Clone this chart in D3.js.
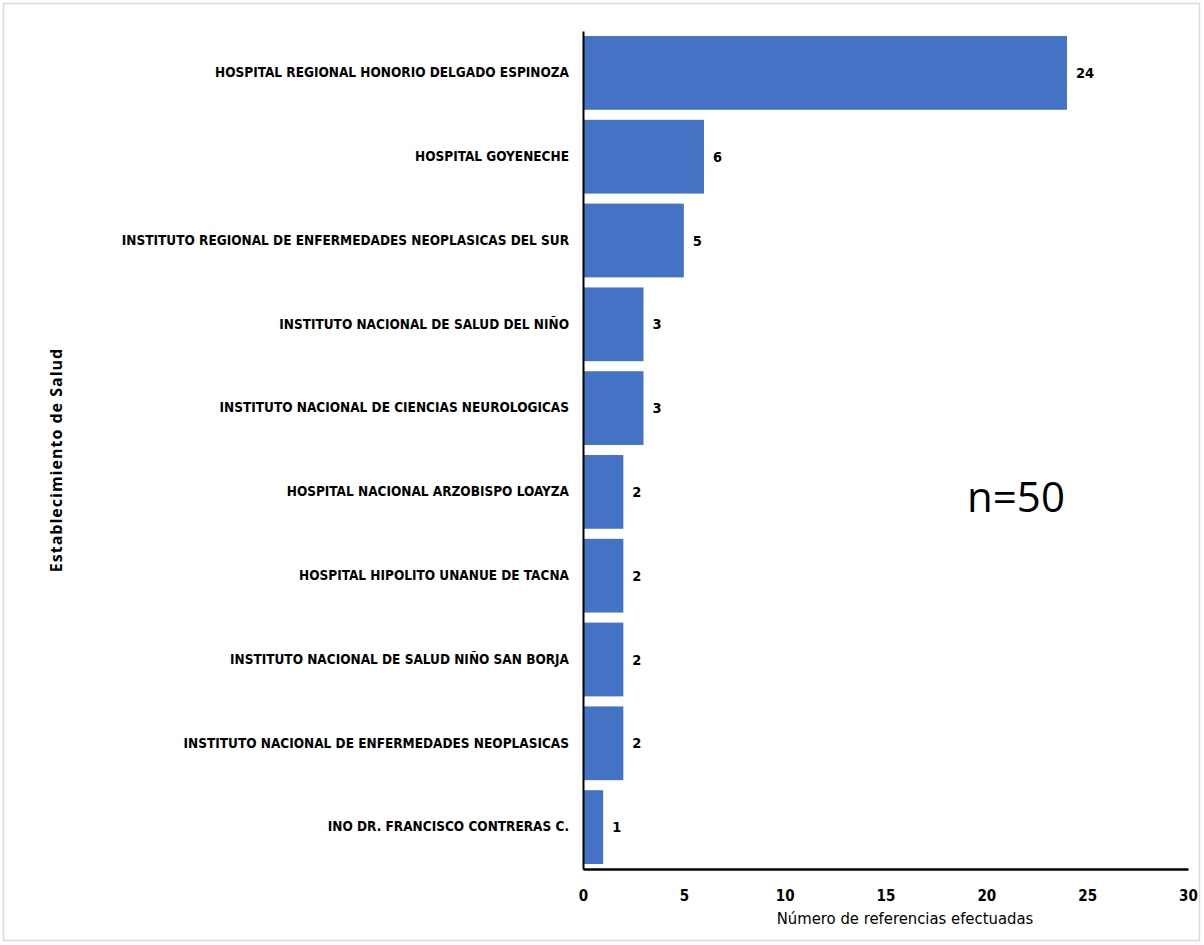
<!DOCTYPE html>
<html><head><meta charset="utf-8">
<script src="https://cdn.jsdelivr.net/npm/d3@7"></script>
<style>body{margin:0;background:#fff;} text{font-family:"DejaVu Sans Condensed",sans-serif;}</style>
</head><body><svg id="c" width="1204" height="945"></svg>
<script>
const categories = [
 "HOSPITAL REGIONAL HONORIO DELGADO ESPINOZA",
 "HOSPITAL GOYENECHE",
 "INSTITUTO REGIONAL DE ENFERMEDADES NEOPLASICAS DEL SUR",
 "INSTITUTO NACIONAL DE SALUD DEL NIÑO",
 "INSTITUTO NACIONAL DE CIENCIAS NEUROLOGICAS",
 "HOSPITAL NACIONAL ARZOBISPO LOAYZA",
 "HOSPITAL HIPOLITO UNANUE DE TACNA",
 "INSTITUTO NACIONAL DE SALUD NIÑO SAN BORJA",
 "INSTITUTO NACIONAL DE ENFERMEDADES NEOPLASICAS",
 "INO DR. FRANCISCO CONTRERAS C."
];
const values = [24, 6, 5, 3, 3, 2, 2, 2, 2, 1];
const xTicks = [0, 5, 10, 15, 20, 25, 30];
const xTitle = "Número de referencias efectuadas";
const yTitle = "Establecimiento de Salud";
const note = "n=50";

const svg = d3.select("#c");
svg.append("rect").attr("x",3.5).attr("y",3.5).attr("width",1196).attr("height",937)
  .attr("fill","#fff").attr("stroke","#d9d9d9").attr("stroke-width",1.5);

const L=583, R=1188, T=31, B=869;
const x = d3.scaleLinear().domain([0,30]).range([L,R]);
const y = d3.scaleBand().domain(categories).range([T,B]).paddingInner(0.12).paddingOuter(0.06);

svg.selectAll("rect.bar").data(values).join("rect").attr("class","bar")
  .attr("x", x(0)).attr("y",(d,i)=>y(categories[i]))
  .attr("width", d=>x(d)-x(0)).attr("height", y.bandwidth()).attr("fill","#4472c4");

svg.selectAll("text.val").data(values).join("text").attr("class","val")
  .attr("x", d=>x(d)+9).attr("y",(d,i)=>y(categories[i])+y.bandwidth()/2)
  .attr("dy","0.35em").attr("font-size",14.5).attr("font-weight","bold").text(d=>d);

const yAxis = svg.append("g").attr("transform",`translate(${L},0)`)
  .call(d3.axisLeft(y).tickSize(0).tickPadding(14));
yAxis.select(".domain").attr("stroke","#000").attr("stroke-width",2);
yAxis.selectAll("text").attr("font-size",13.5).attr("font-weight","bold").attr("fill","#000")
  .style("font-family",'"DejaVu Sans Condensed",sans-serif');

const xAxis = svg.append("g").attr("transform",`translate(0,${B})`)
  .call(d3.axisBottom(x).tickValues(xTicks).tickSize(0).tickPadding(21));
xAxis.select(".domain").attr("stroke","#000").attr("stroke-width",2.5);
xAxis.selectAll("text").attr("font-size",15).attr("font-weight","bold").attr("fill","#000")
  .style("font-family",'"DejaVu Sans Condensed",sans-serif');

svg.append("text").attr("x",905).attr("y",924).attr("text-anchor","middle")
  .attr("font-size",16.5).text(xTitle);
svg.append("text").attr("transform","translate(62,460) rotate(-90)").attr("text-anchor","middle")
  .attr("font-size",16).attr("font-weight","bold").attr("letter-spacing",1)
  .style("font-family","'Open Sans',sans-serif").text(yTitle);
svg.append("text").attr("x",1016).attr("y",512).attr("text-anchor","middle")
  .attr("font-size",42).style("font-family","'Open Sans',sans-serif").text(note);
</script></body></html>
